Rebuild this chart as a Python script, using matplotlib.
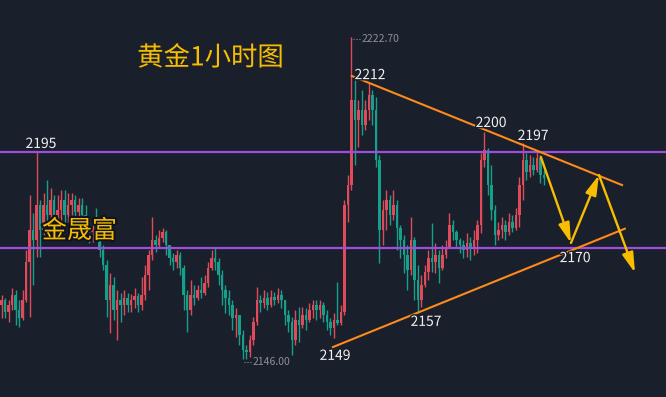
import matplotlib
matplotlib.use('Agg')
import matplotlib.pyplot as plt
import matplotlib.patheffects as pe
import numpy as np

plt.rcParams['font.family'] = ['Noto Sans CJK SC', 'DejaVu Sans']

BG = '#1a1f2c'
UP = '#e04b5a'
DOWN = '#14a08a'
PURPLE = '#9d4edd'
ORANGE = '#ff8a1c'
GOLD = '#f7bd00'

# hourly gold candles (open of each bar = previous close)
first_open = 2158.9
closes = [
    2160.0, 2157.2, 2158.9, 2161.2, 2157.7, 2155.8, 2160.0, 2169.1, 2176.7, 2174.3,
    2182.7, 2176.7, 2182.7, 2180.3, 2183.9, 2180.3, 2181.5, 2183.9, 2180.3, 2182.7,
    2183.9, 2181.0, 2182.7, 2180.3, 2177.9, 2176.2, 2177.2, 2176.7, 2171.9, 2168.4,
    2160.0, 2163.6, 2157.7, 2160.0, 2158.9, 2160.5, 2158.9, 2160.0, 2161.0, 2158.9,
    2161.2, 2166.0, 2170.8, 2174.3, 2173.1, 2174.8, 2176.2, 2173.1, 2170.0, 2169.1,
    2170.8, 2167.7, 2161.2, 2157.7, 2161.2, 2160.5, 2162.4, 2161.7, 2164.1, 2167.7,
    2170.0, 2169.1, 2166.0, 2162.4, 2160.5, 2158.9, 2155.8, 2156.5, 2151.7, 2148.1,
    2147.7, 2150.5, 2154.8, 2160.0, 2159.3, 2160.5, 2158.9, 2160.8, 2160.0, 2161.2,
    2160.0, 2156.5, 2154.8, 2150.5, 2155.3, 2154.1, 2156.5, 2155.3, 2157.7, 2158.9,
    2157.7, 2158.9, 2156.5, 2154.8, 2153.4, 2155.3, 2154.6, 2157.2, 2182.7, 2187.4,
    2207.7, 2202.9, 2205.3, 2201.7, 2205.3, 2208.9, 2205.3, 2193.4, 2176.7, 2181.5,
    2183.9, 2180.3, 2182.7, 2177.2, 2174.3, 2170.8, 2167.2, 2174.3, 2164.8, 2160.0,
    2163.6, 2166.7, 2170.0, 2169.1, 2170.8, 2167.7, 2170.8, 2172.4, 2177.9, 2176.2,
    2174.3, 2173.1, 2171.9, 2173.6, 2172.4, 2174.3, 2177.9, 2193.4, 2195.8, 2187.4,
    2181.5, 2175.5, 2176.7, 2177.9, 2176.2, 2178.6, 2177.2, 2180.3, 2187.4, 2193.4,
    2190.5, 2192.2, 2191.0, 2193.9, 2189.8, 2189.1,
]
highs = [
    2161.2, 2160.5, 2160.0, 2162.9, 2162.4, 2160.0, 2162.4, 2171.9, 2185.1, 2180.8,
    2195.3, 2183.9, 2185.5, 2188.6, 2186.7, 2185.1, 2185.1, 2186.2, 2186.2, 2185.5,
    2185.5, 2185.1, 2184.3, 2184.3, 2182.7, 2179.6, 2179.1, 2182.0, 2177.2, 2173.1,
    2169.6, 2166.5, 2165.5, 2162.4, 2161.7, 2162.4, 2161.7, 2161.5, 2162.9, 2161.7,
    2165.5, 2168.4, 2171.9, 2179.8, 2175.5, 2176.7, 2177.2, 2176.7, 2173.1, 2171.2,
    2171.9, 2171.5, 2168.4, 2162.4, 2164.8, 2163.6, 2163.6, 2165.5, 2166.0, 2169.1,
    2171.9, 2172.4, 2170.0, 2167.2, 2163.6, 2162.4, 2160.0, 2158.1, 2156.5, 2152.9,
    2149.3, 2151.7, 2156.0, 2163.1, 2161.2, 2162.4, 2161.9, 2162.4, 2161.9, 2162.9,
    2162.4, 2160.0, 2157.7, 2156.0, 2157.7, 2158.4, 2158.4, 2158.1, 2159.3, 2160.0,
    2160.0, 2160.0, 2159.6, 2157.7, 2155.8, 2156.9, 2164.3, 2158.9, 2183.9, 2189.8,
    2222.7, 2212.4, 2207.7, 2210.1, 2207.7, 2211.7, 2210.1, 2208.4, 2194.6, 2183.9,
    2186.2, 2185.1, 2186.2, 2183.9, 2177.9, 2175.5, 2173.1, 2179.8, 2175.0, 2168.4,
    2166.0, 2168.4, 2171.9, 2178.4, 2173.6, 2171.9, 2173.1, 2174.3, 2180.8, 2179.1,
    2176.7, 2174.8, 2174.3, 2176.0, 2175.0, 2176.7, 2179.1, 2195.1, 2200.1, 2196.2,
    2192.2, 2182.7, 2178.6, 2179.8, 2179.1, 2180.8, 2180.3, 2182.0, 2189.3, 2197.4,
    2195.1, 2194.6, 2194.1, 2195.3, 2194.6, 2191.0,
]
lows = [
    2155.8, 2155.8, 2154.8, 2157.7, 2154.1, 2153.6, 2155.3, 2159.6, 2156.0, 2163.6,
    2170.3, 2170.3, 2175.5, 2176.7, 2177.9, 2177.2, 2175.5, 2177.9, 2177.2, 2178.6,
    2180.3, 2179.1, 2179.6, 2176.7, 2176.2, 2173.6, 2173.9, 2174.8, 2170.3, 2167.2,
    2156.0, 2152.2, 2155.3, 2150.5, 2154.8, 2156.5, 2157.2, 2157.2, 2158.1, 2157.2,
    2157.7, 2160.0, 2162.4, 2169.6, 2171.5, 2172.4, 2173.9, 2170.8, 2168.4, 2167.2,
    2167.7, 2166.0, 2157.7, 2152.4, 2156.5, 2158.9, 2160.0, 2160.5, 2161.2, 2163.1,
    2167.2, 2167.2, 2163.6, 2158.9, 2156.9, 2156.5, 2152.9, 2151.2, 2149.3, 2146.0,
    2146.0, 2146.5, 2149.3, 2154.1, 2157.2, 2158.1, 2157.7, 2158.4, 2158.9, 2159.3,
    2158.1, 2154.1, 2152.4, 2146.9, 2149.3, 2150.0, 2153.4, 2152.9, 2154.8, 2155.8,
    2155.3, 2155.8, 2154.8, 2152.9, 2151.7, 2151.0, 2154.1, 2154.1, 2156.5, 2178.6,
    2186.2, 2192.2, 2196.5, 2199.3, 2200.5, 2202.9, 2201.7, 2191.7, 2168.9, 2173.1,
    2176.7, 2177.9, 2179.1, 2171.9, 2170.0, 2166.5, 2162.4, 2166.0, 2160.0, 2156.9,
    2158.4, 2163.1, 2164.8, 2166.7, 2166.5, 2164.1, 2167.2, 2170.0, 2173.1, 2174.3,
    2172.7, 2171.2, 2170.0, 2170.3, 2169.6, 2170.8, 2171.2, 2176.0, 2191.7, 2185.1,
    2179.1, 2173.1, 2174.3, 2174.8, 2174.3, 2175.5, 2176.2, 2176.7, 2177.4, 2183.9,
    2188.6, 2189.3, 2189.8, 2190.5, 2187.9, 2187.4,
]

# hand drawn analysis (bar index, price)
resistance = 2195.3
support = 2172.4
upper_trend = [(100.1, 2213.4), (177.3, 2187.4)]
lower_trend = [(94.7, 2148.8), (178.1, 2177.0)]
forecast = [(154.1, 2194.1), (162.7, 2173.6), (170.7, 2189.8), (181.0, 2166.5)]
marks = [
    ('2195', 11.3, 2197.2), ('2212', 105.3, 2213.6), ('2200', 139.9, 2202.2),
    ('2197', 151.9, 2199.1), ('2170', 163.9, 2170.0), ('2157', 121.3, 2154.8),
    ('2149', 95.3, 2146.7),
]

closes = np.array(closes)
opens = np.r_[first_open, closes[:-1]]
hi = np.maximum(highs, np.maximum(opens, closes))
lo = np.minimum(lows, np.minimum(opens, closes))
x = np.arange(len(closes))
colors = np.where(closes >= opens, UP, DOWN)

fig = plt.figure(figsize=(6.66, 3.97), dpi=100, facecolor=BG)
ax = fig.add_axes([0, 0, 1, 1], facecolor=BG)
ax.set_xlim(-0.43, 189.86)
ax.set_ylim(2136.9, 2231.5)
ax.axis('off')

ax.vlines(x, lo, hi, colors=colors, lw=1)
body = np.maximum(np.abs(closes - opens), 0.3)
ax.bar(x, body, bottom=np.minimum(opens, closes), width=0.62, color=colors, linewidth=0)

ax.axhline(resistance, color=PURPLE, lw=1.6)
ax.axhline(support, color=PURPLE, lw=1.6)

for line in (upper_trend, lower_trend):
    xs, ys = zip(*line)
    ax.plot(xs, ys, color=ORANGE, lw=1.5)

for start, end in zip(forecast[:-1], forecast[1:]):
    ax.annotate('', xy=end, xytext=start,
                arrowprops=dict(arrowstyle='-|>,head_length=1.0,head_width=0.28',
                                mutation_scale=12, color=GOLD, lw=1.7,
                                shrinkA=0, shrinkB=0))

# extreme markers
i_max = int(np.argmax(hi))
i_min = int(np.argmin(lo))
ax.plot([i_max + 0.3, i_max + 2.5], [hi[i_max] - 0.5] * 2, color='#8a8f9a', lw=0.8, ls=':')
ax.text(i_max + 2.8, hi[i_max] - 0.5, f'{hi[i_max]:.2f}', color='#8a8f9a',
        fontsize=7.5, va='center', ha='left')
ax.plot([i_min + 0.3, i_min + 2.5], [lo[i_min] - 0.7] * 2, color='#8a8f9a', lw=0.8, ls=':')
ax.text(i_min + 2.8, lo[i_min] - 0.7, f'{lo[i_min]:.2f}', color='#8a8f9a',
        fontsize=7.5, va='center', ha='left')

dark = [pe.withStroke(linewidth=2, foreground=BG)]
for label, lx, ly in marks:
    ax.text(lx, ly, label, color='#f2f2f2', fontsize=10, ha='center', va='center',
            path_effects=dark)

ax.text(0.206, 0.854, '黄金1小时图', transform=ax.transAxes, color=GOLD,
        fontsize=19, ha='left', va='center', path_effects=dark)
ax.text(0.063, 0.418, '金晟富', transform=ax.transAxes, color=GOLD,
        fontsize=18, ha='left', va='center',
        path_effects=[pe.withStroke(linewidth=3, foreground='#101420')])

fig.savefig('out.png', dpi=100, facecolor=BG)
